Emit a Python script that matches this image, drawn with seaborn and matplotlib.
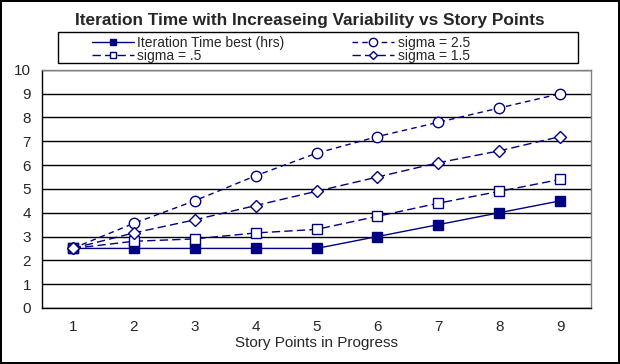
import pandas as pd
import seaborn as sns
import matplotlib.pyplot as plt
from matplotlib.lines import Line2D
from matplotlib.patches import Rectangle

story_points = [1, 2, 3, 4, 5, 6, 7, 8, 9]
best_hrs = [2.5, 2.5, 2.5, 2.5, 2.5, 3.0, 3.5, 4.0, 4.5]
sigma_05 = [2.5, 2.8, 2.9, 3.15, 3.3, 3.85, 4.4, 4.9, 5.4]
sigma_25 = [2.5, 3.55, 4.5, 5.55, 6.5, 7.2, 7.8, 8.4, 9.0]
sigma_15 = [2.5, 3.15, 3.7, 4.3, 4.9, 5.5, 6.1, 6.6, 7.2]
y_ticks = [0, 1, 2, 3, 4, 5, 6, 7, 8, 9, 10]

navy = '#000080'

sns.set_style('white')
plt.rcParams['font.family'] = ['Liberation Sans', 'DejaVu Sans']

fig = plt.figure(figsize=(6.2, 3.64), dpi=100)
fig.patch.set_edgecolor('black')
fig.patch.set_linewidth(1.5)
ax = fig.add_axes([0.068, 0.154, 0.885, 0.654])

# label, values, marker, facecolor, linestyle, markersize
series = [
    ('Iteration Time best (hrs)', best_hrs, 's', navy, '-', 6.5),
    ('sigma = .5', sigma_05, 's', 'white', (0, (6, 3)), 6.5),
    ('sigma = 2.5', sigma_25, 'o', 'white', (0, (4, 3)), 7.5),
    ('sigma = 1.5', sigma_15, 'D', 'white', (0, (6, 3)), 6),
]

handles = []
for label, vals, marker, fc, ls, ms in series:
    df = pd.DataFrame({'x': story_points, 'y': vals})
    sns.lineplot(data=df, x='x', y='y', ax=ax, color=navy, lw=1,
                 linestyle=ls, marker=marker, markersize=ms,
                 markerfacecolor=fc, markeredgecolor=navy,
                 markeredgewidth=1, zorder=3)
    handles.append(Line2D([], [], color=navy, lw=1, linestyle=ls,
                          marker=marker, markersize=ms - 1.5,
                          markerfacecolor=fc, markeredgecolor=navy))

ax.set_xlim(0.5, 9.5)
ax.set_ylim(0, 10)
ax.set_yticks(y_ticks)
ax.set_xticks(story_points)
ax.set_xticks([x + 0.5 for x in range(0, 10)], minor=True)
ax.tick_params(axis='x', which='major', length=0, labelsize=11, pad=9)
ax.tick_params(axis='x', which='minor', direction='inout', length=8, width=1, color='black')
ax.tick_params(axis='y', direction='inout', length=8, width=1, color='black', labelsize=11, pad=4)
ax.yaxis.grid(True, color='black', lw=1)
ax.set_axisbelow(True)
for s in ['top', 'right']:
    ax.spines[s].set_color('#808080')
for s in ['left', 'bottom']:
    ax.spines[s].set_color('black')
for s in ax.spines.values():
    s.set_linewidth(1)
ax.set_xlabel('Story Points in Progress', fontsize=11, labelpad=1)
ax.set_ylabel('')

fig.text(0.5, 0.944, 'Iteration Time with Increaseing Variability vs Story Points',
         ha='center', va='center', fontsize=12.4, fontweight='bold')

# legend box drawn separately, legend entries placed inside
fig.patches.append(Rectangle((58 / 620, 1 - 63 / 364), 520 / 620, 31 / 364,
                             transform=fig.transFigure, fill=False,
                             edgecolor='black', lw=1))
fig.legend(handles, [s[0] for s in series], ncol=2, loc='upper left',
           bbox_to_anchor=(92 / 620, 1 - 36 / 364), frameon=False,
           fontsize=10, handlelength=3.0, borderpad=0, borderaxespad=0,
           labelspacing=-0.1, handletextpad=0.25, columnspacing=4.9)

fig.savefig('out.png', dpi=100)
